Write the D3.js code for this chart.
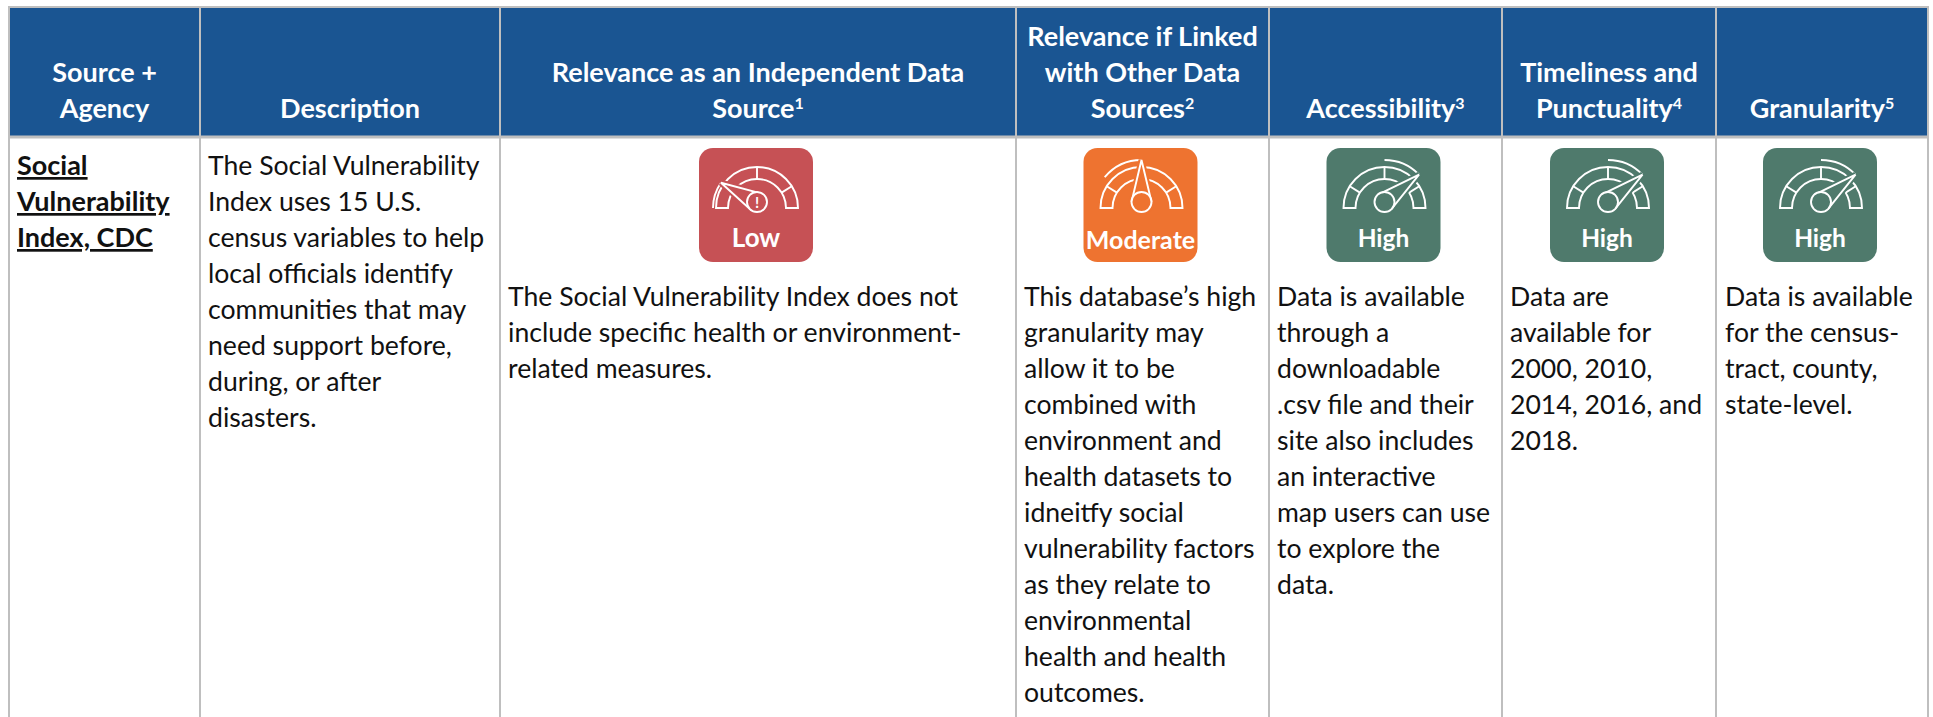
<!DOCTYPE html>
<html lang="en">
<head>
<meta charset="UTF-8">
<title>Social Vulnerability Index</title>
<script src="https://d3js.org/d3.v7.min.js"></script>
<style>
  html, body { margin: 0; padding: 0; background: #fff; overflow: hidden; }
  text { font-family: Lato, "Open Sans", sans-serif; }
</style>
</head>
<body>
<svg id="chart" width="1933" height="717"></svg>
<script>
// one line of text per entry, same breaks as the reference
const columns = ["source", "description", "independent", "linked", "accessibility", "timeliness", "granularity"];
const headerLines = [
  [["Source +"], ["Agency"]],
  [["Description"]],
  [["Relevance as an Independent Data"], ["Source", "1"]],
  [["Relevance if Linked"], ["with Other Data"], ["Sources", "2"]],
  [["Accessibility", "3"]],
  [["Timeliness and"], ["Punctuality", "4"]],
  [["Granularity", "5"]]
];
const sourceLines = ["Social", "Vulnerability", "Index, CDC"];
const descriptionLines = ["The Social Vulnerability", "Index uses 15 U.S.", "census variables to help", "local officials identify", "communities that may", "need support before,", "during, or after", "disasters."];
const independentLines = ["The Social Vulnerability Index does not", "include specific health or environment-", "related measures."];
const linkedLines = ["This database\u2019s high", "granularity may", "allow it to be", "combined with", "environment and", "health datasets to", "idneitfy social", "vulnerability factors", "as they relate to", "environmental", "health and health", "outcomes."];
const accessibilityLines = ["Data is available", "through a", "downloadable", ".csv file and their", "site also includes", "an interactive", "map users can use", "to explore the", "data."];
const timelinessLines = ["Data are", "available for", "2000, 2010,", "2014, 2016, and", "2018."];
const granularityLines = ["Data is available", "for the census-", "tract, county,", "state-level."];
const ratings = ["Low", "Moderate", "High", "High", "High"];
const ratingColumns = ["independent", "linked", "accessibility", "timeliness", "granularity"];
const ratingNames = ["Low", "Moderate", "High"];
const ratingColors = ["#c65155", "#ee7330", "#4f7a6c"];
const needleAngles = [-55, 0, 46]; // degrees from straight up
const sweepStarts = [-90, -50, 0]; // outer arc runs from here to the needle

const width = 1933, height = 717;
const edges = [9, 200, 500, 1016, 1269, 1502, 1716, 1928];
const headTop = 7, headBottom = 137;
const border = "#bfbfbf", headBlue = "#1a5592";
const lineGap = 36;

const svg = d3.select("#chart");
const x = d3.scaleOrdinal().domain(columns).range(edges.slice(0, -1));
const colW = d => edges[columns.indexOf(d) + 1] - x(d);
const color = d3.scaleOrdinal().domain(ratingNames).range(ratingColors);
const needle = d3.scaleOrdinal().domain(ratingNames).range(needleAngles);
const sweep = d3.scaleOrdinal().domain(ratingNames).range(sweepStarts);
const rad = d => d * Math.PI / 180;

// header band
svg.selectAll("rect.head").data(columns).join("rect")
  .attr("class", "head")
  .attr("x", d => x(d)).attr("y", headTop)
  .attr("width", colW).attr("height", headBottom - headTop)
  .attr("fill", headBlue);

// header text, bottom aligned
const headG = svg.selectAll("g.headtext").data(columns).join("g").attr("class", "headtext");
headG.each(function (c, i) {
  const lines = headerLines[i];
  const cx = x(c) + colW(c) / 2;
  lines.forEach((parts, j) => {
    const t = d3.select(this).append("text")
      .attr("x", cx)
      .attr("y", 118 - (lines.length - 1 - j) * lineGap)
      .attr("text-anchor", "middle")
      .attr("fill", "#fff")
      .attr("font-weight", 700)
      .attr("font-size", 27);
    t.append("tspan").text(parts[0]);
    if (parts[1]) t.append("tspan").attr("baseline-shift", "super").attr("font-size", 16).text(parts[1]);
  });
});

// grid lines
svg.append("line").attr("x1", edges[0] - 1).attr("x2", edges[7] + 1).attr("y1", headTop).attr("y2", headTop).attr("stroke", border).attr("stroke-width", 2);
svg.append("line").attr("x1", edges[0] - 1).attr("x2", edges[7] + 1).attr("y1", headBottom).attr("y2", headBottom).attr("stroke", border).attr("stroke-width", 3);
svg.selectAll("line.col").data(edges).join("line")
  .attr("class", "col")
  .attr("x1", d => d).attr("x2", d => d)
  .attr("y1", headTop).attr("y2", height)
  .attr("stroke", border).attr("stroke-width", 2);

// body text
function bodyText(lines, col, top, opts = {}) {
  svg.append("g").selectAll("text").data(lines).join("text")
    .attr("x", x(col) + (opts.dx || 8))
    .attr("y", (d, i) => top + i * lineGap)
    .attr("fill", "#111")
    .attr("font-size", opts.bold ? 27 : 26.6)
    .attr("font-weight", opts.bold ? 700 : 400)
    .attr("text-decoration", opts.bold ? "underline" : null)
    .text(d => d);
}
bodyText(sourceLines, "source", 175, { bold: true });
bodyText(descriptionLines, "description", 175);
bodyText(independentLines, "independent", 306);
bodyText(linkedLines, "linked", 306);
bodyText(accessibilityLines, "accessibility", 306);
bodyText(timelinessLines, "timeliness", 306);
bodyText(granularityLines, "granularity", 306, { dx: 9 });

// rating badges
const bw = 114, bh = 114, bTop = 148;
const arc = d3.arc();
const badge = svg.selectAll("g.badge").data(ratings).join("g")
  .attr("class", "badge")
  .attr("transform", (d, i) => {
    const c = ratingColumns[i];
    return `translate(${x(c) + colW(c) / 2 - 2},${bTop})`;
  });
badge.append("rect")
  .attr("x", -bw / 2).attr("width", bw).attr("height", bh).attr("rx", 14)
  .attr("fill", d => color(d));

// gauge band, ticks, outer sweep, then needle on top
const gauge = badge.append("g").attr("transform", "translate(1,60)")
  .attr("fill", "none").attr("stroke", "#fff").attr("stroke-width", 1.9);
gauge.append("path").attr("d", arc({ innerRadius: 29, outerRadius: 41, startAngle: -Math.PI / 2, endAngle: Math.PI / 2 }));
gauge.selectAll("line.tick").data([-58, 0, 58]).join("line")
  .attr("class", "tick")
  .attr("x1", d => 29 * Math.sin(rad(d))).attr("y1", d => -29 * Math.cos(rad(d)))
  .attr("x2", d => 41 * Math.sin(rad(d))).attr("y2", d => -41 * Math.cos(rad(d)));
const reach = d => d === "Low" ? 44 : 48;
gauge.append("path").attr("d", d => {
  const lo = Math.min(sweep(d), needle(d)), hi = Math.max(sweep(d), needle(d));
  return arc({ innerRadius: reach(d), outerRadius: reach(d), startAngle: rad(lo), endAngle: rad(hi) });
});

function needlePath(d) {
  const a = rad(needle(d)), r = reach(d), hubY = -6, hubR = 10;
  const tx = r * Math.sin(a), ty = -r * Math.cos(a);
  const nx = Math.cos(a) * hubR, ny = Math.sin(a) * hubR;
  return `M${nx},${hubY + ny} L${tx},${ty} L${-nx},${hubY - ny}`;
}
// wider stroke in the badge colour opens a gap in the band around the needle
gauge.append("path").attr("d", needlePath)
  .attr("fill", d => color(d)).attr("stroke", d => color(d)).attr("stroke-width", 6);
gauge.append("circle").attr("cy", -6).attr("r", 10)
  .attr("fill", d => color(d)).attr("stroke", d => color(d)).attr("stroke-width", 6);
gauge.append("path").attr("d", needlePath);
gauge.append("circle").attr("cy", -6).attr("r", 10).attr("fill", d => color(d));

badge.filter(d => d === "Low").append("text")
  .attr("x", 1).attr("y", 60)
  .attr("text-anchor", "middle").attr("fill", "#fff")
  .attr("font-family", "Roboto, sans-serif")
  .attr("font-weight", 700).attr("font-size", 15)
  .text("!");

badge.append("text")
  .attr("y", d => d === "Moderate" ? 101 : 98.5)
  .attr("text-anchor", "middle").attr("fill", "#fff")
  .attr("font-family", "Roboto, sans-serif")
  .attr("font-weight", 700).attr("font-size", d => d === "Low" ? 26 : d === "High" ? 24.5 : 25)
  .text(d => d);
</script>
</body>
</html>
